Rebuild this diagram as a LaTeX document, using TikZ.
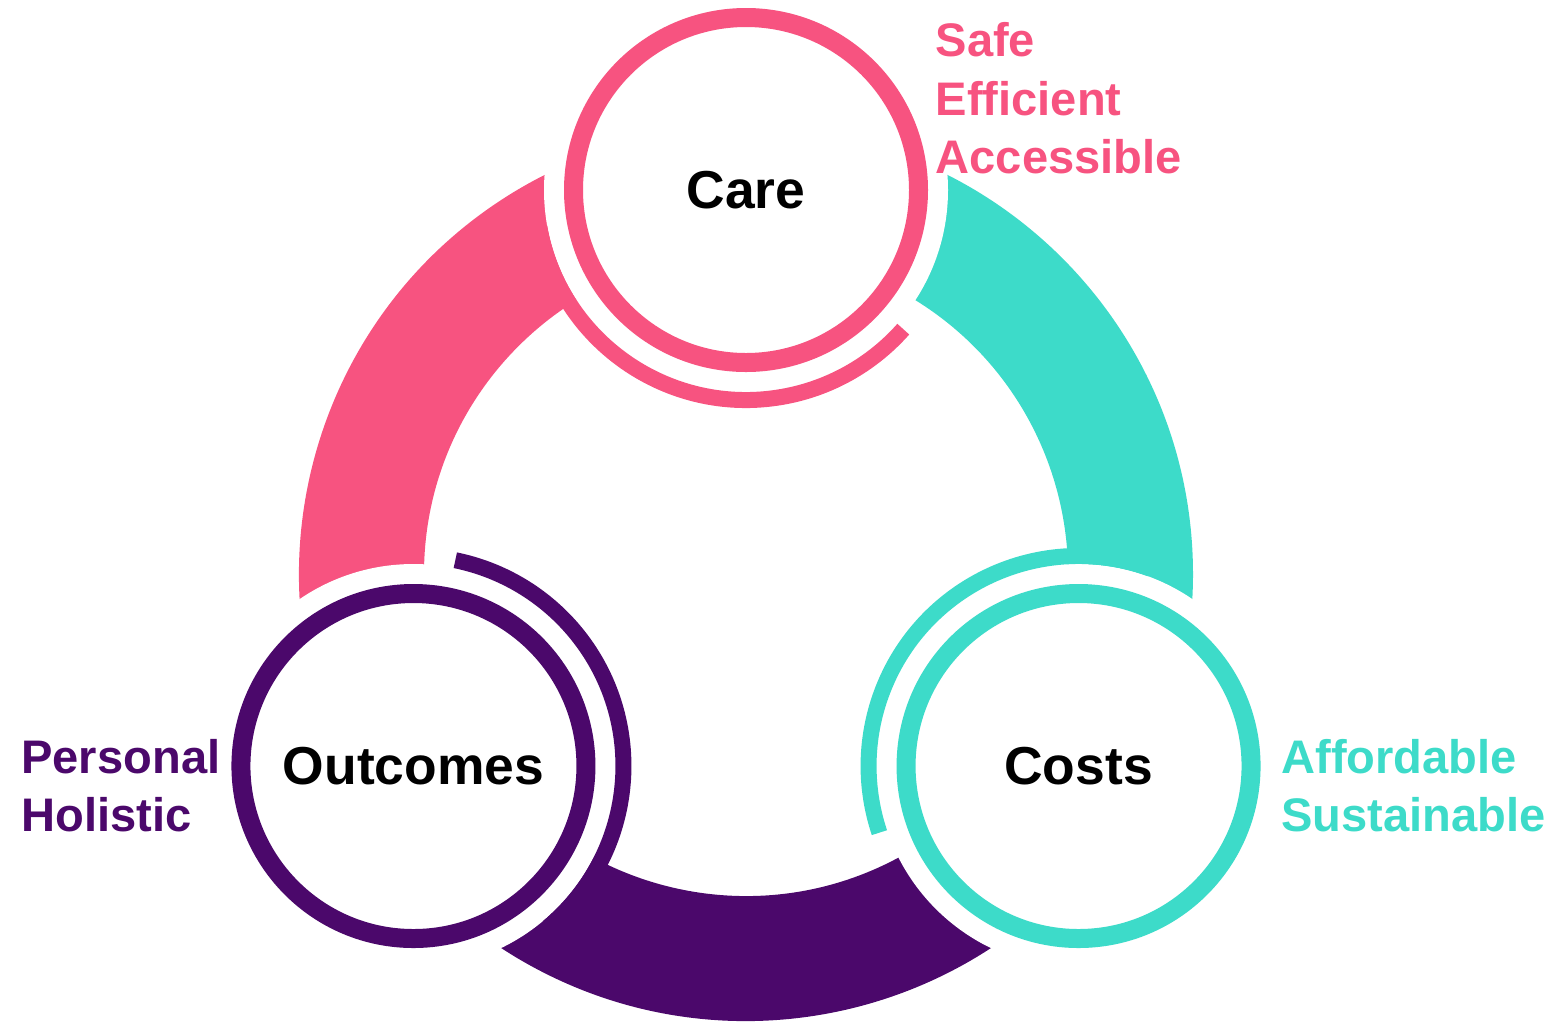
\documentclass[tikz,border=0pt]{standalone}
\usepackage{fontspec}
\setmainfont{Liberation Sans}
\usepackage{tikz}
\usepackage{xcolor}
\definecolor{carepink}{RGB}{247,83,128}
\definecolor{costteal}{RGB}{61,219,201}
\definecolor{outpurple}{RGB}{75,8,107}

\begin{document}
\begin{tikzpicture}[
    pillar/.style={draw, circle, line width=0.19cm, minimum size=3.45cm, inner sep=0pt, fill=white, font=\fontsize{15.2}{17}\selectfont\bfseries},
    hug/.style={line width=0.16cm},
    tag/.style={align=left, anchor=north west, inner sep=0pt, font=\fontsize{13.4}{16.6}\selectfont\bfseries}
]
    \useasboundingbox (-7.46,-4.47) rectangle (8.11,5.74);
    \coordinate (hub) at (0,0);
    \coordinate (pcare) at (90:3.84);
    \coordinate (pout) at (210:3.84);
    \coordinate (pcost) at (330:3.84);

    % Bands
    \fill[carepink] (90:3.22) arc[start angle=90, end angle=210, radius=3.22] -- (210:4.47) arc[start angle=210, end angle=90, radius=4.47] -- cycle;
    \fill[costteal] (-30:3.22) arc[start angle=-30, end angle=90, radius=3.22] -- (90:4.47) arc[start angle=90, end angle=-30, radius=4.47] -- cycle;
    \fill[outpurple] (210:3.22) arc[start angle=210, end angle=330, radius=3.22] -- (330:4.47) arc[start angle=330, end angle=210, radius=4.47] -- cycle;

    % Gaps round the circles
    \foreach \p in {pcare,pout,pcost}
        \fill[white] (\p) circle[radius=2.02];

    % Thin ends
    \draw[hug, carepink] (pcare) ++(190:2.1) arc[start angle=190, end angle=318.5, radius=2.1];
    \draw[hug, outpurple] (pout) ++(310:2.1) arc[start angle=310, end angle=438.5, radius=2.1];
    \draw[hug, costteal] (pcost) ++(70:2.1) arc[start angle=70, end angle=198.5, radius=2.1];

    % Entities
    \node[pillar, draw=carepink] (care) at (pcare) {Care};
    \node[pillar, draw=outpurple] (outcomes) at (pout) {Outcomes};
    \node[pillar, draw=costteal] (costs) at (pcost) {Costs};

    % Labels
    \node[tag, text=carepink] (caretags) at (1.89,5.52) {Safe\\Efficient\\Accessible};
    \node[tag, text=outpurple] (outtags) at (-7.253,-1.645) {Personal\\Holistic};
    \node[tag, text=costteal] (costtags) at (5.347,-1.645) {Affordable\\Sustainable};
\end{tikzpicture}
\end{document}
